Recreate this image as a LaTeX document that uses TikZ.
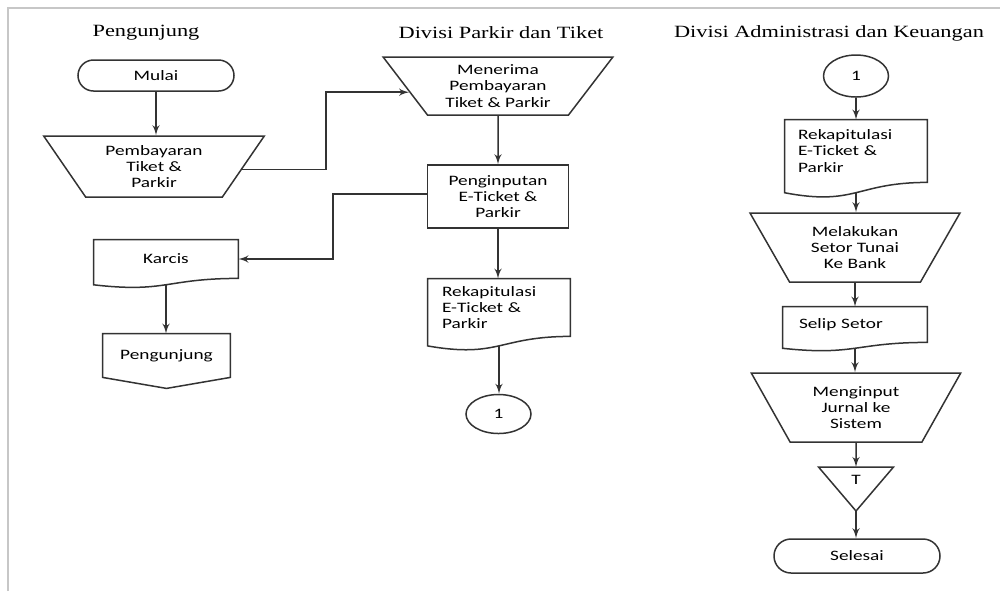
\documentclass[tikz,border=0pt]{standalone}
\usepackage{fontspec}
\newfontfamily\boxfont[FakeStretch=1.34]{Carlito}
\newfontfamily\headfont[FakeStretch=1.3]{Liberation Serif}
\usetikzlibrary{arrows,shapes.geometric,shapes.misc,calc}

\newcommand{\docpath}[1]{%
  \draw[outl] let \p1=(#1.north), \p2=(#1.south), \n1={\y1-\y2} in
    (#1.north west) -- (#1.north east) -- (#1.south east)
    .. controls (#1.south) and ($(#1.south)+(0pt,-0.381*\n1)$) .. ($(#1.south west)+(0pt,-0.1645*\n1)$) -- cycle
    ($(#1.south)+(0pt,-0.1635*\n1)$) coordinate (#1-b);}
\newcommand{\offpath}[1]{%
  \draw[outl] (#1.north west) -- (#1.north east) -- (#1.south east) -- ($(#1.south)+(0pt,-5.5pt)$) -- (#1.south west) -- cycle;}

\begin{document}
\begin{tikzpicture}[x=0.5pt,y=-0.5pt,>=latex',
	every node/.style={font=\boxfont\fontsize{7.2}{8.1}\selectfont},
	outl/.style={draw=black!80,line width=0.75pt},
	every edge/.style={outl},
	head/.style={font=\headfont\fontsize{8.6}{10}\selectfont},
	term/.style={rounded rectangle,outl,inner sep=0pt},
	manual/.style={trapezium,shape border rotate=180,trapezium stretches=true,outl,inner sep=0pt,align=center},
	proc/.style={rectangle,outl,inner sep=0pt,align=center},
	doc/.style={rectangle,inner sep=0pt,align=left},
	conn/.style={ellipse,outl,inner sep=0pt,minimum width=32.5pt}]

\useasboundingbox (0,0) rectangle (1000,591);
\draw[black!22,line width=1pt] (8,591) -- (8,8) -- (1000,8);

\node[head] (lane1) at (146,33) {Pengunjung};
	\node[head] (lane2) at (501,33) {Divisi Parkir dan Tiket};
	\node[head] (lane3) at (829,33) {Divisi Administrasi dan Keuangan};

\node[term,minimum width=78pt,minimum height=15.5pt] (mulai) at (156,75.5) {Mulai};
	\node[manual,trapezium angle=55,minimum width=111pt,minimum height=30.5pt] (bayar) at (154,166.5) {Pembayaran\\Tiket \&\\Parkir};
	\node[doc,align=center,minimum width=72pt,minimum height=19pt] (karcis) at (166,259) {Karcis};
	\node[doc,align=center,minimum width=63.5pt,minimum height=21.5pt] (pengunjung) at (166.5,355.5) {Pengunjung};

\node[manual,trapezium angle=52,minimum width=115.5pt,minimum height=29pt] (terima) at (498,86) {Menerima\\Pembayaran\\Tiket \& Parkir};
	\node[proc,minimum width=70.5pt,minimum height=31.5pt] (input) at (498,196.5) {Penginputan\\E-Ticket \&\\Parkir};
	\node[doc,text width=57pt,minimum width=71pt,minimum height=28.5pt] (rekap1) at (499,307.5) {Rekapitulasi\\E-Ticket \&\\Parkir};
	\node[conn,minimum height=19.5pt] (satu1) at (498.5,414) {1};

\node[conn,minimum height=21pt] (satu2) at (856,76) {1};
	\node[doc,text width=58pt,minimum width=71pt,minimum height=31pt] (rekap2) at (856,151) {Rekapitulasi\\E-Ticket \&\\Parkir};
	\node[manual,trapezium angle=58,minimum width=105.5pt,minimum height=34.5pt] (setor) at (855,247.5) {Melakukan\\Setor Tunai\\Ke Bank};
	\node[doc,text width=56pt,minimum width=72pt,minimum height=17.5pt] (selip) at (855,324.5) {Selip Setor};
	\node[manual,trapezium angle=59,minimum width=105pt,minimum height=34.5pt] (jurnal) at (856,407.5) {Menginput\\Jurnal ke\\Sistem};
	\node (simpan) at (856,480) {T};
	\node[term,minimum width=83pt,minimum height=17pt] (selesai) at (857,556) {Selesai};

\docpath{karcis}
\docpath{rekap1}
\docpath{rekap2}
\docpath{selip}
\offpath{pengunjung}
\coordinate (simpanatas) at (856,467);
\coordinate (simpanbawah) at (856,511);
\draw[outl] (818.5,467) -- (893.5,467) -- (simpanbawah) -- cycle;

\coordinate (k1) at (326,130);
\coordinate (k2) at (333,230);

\path[->] (mulai.south) edge (mulai.south |- bayar.north)
		(karcis-b) edge (karcis-b |- pengunjung.north)
		(terima.south) edge (input.north)
		(input.south) edge (input.south |- rekap1.north)
		(rekap1-b) edge (rekap1-b |- satu1.north)
		(satu2.south) edge (satu2.south |- rekap2.north)
		(rekap2-b) edge (rekap2-b |- setor.north)
		(setor.south) edge (setor.south |- selip.north)
		(selip-b) edge (selip-b |- jurnal.north)
		(jurnal.south) edge (simpanatas)
		(simpanbawah) edge (simpanbawah |- selesai.north);

\draw[->,outl] (bayar.358) -| (k1) |- (terima.184);
\draw[->,outl] ([yshift=1.25pt]input.west) -| (k2) |- (karcis.east);

\end{tikzpicture}
\end{document}
